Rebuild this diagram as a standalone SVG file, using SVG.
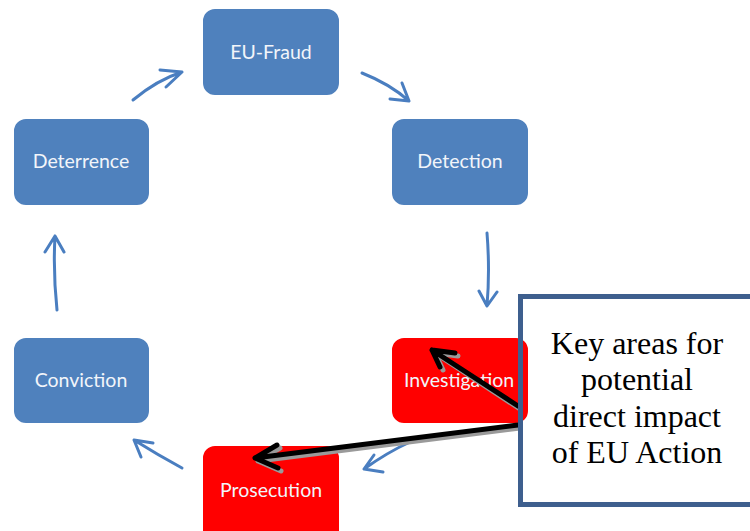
<svg xmlns="http://www.w3.org/2000/svg" width="750" height="531" viewBox="0 0 750 531">
<defs>
<style>
.box{stroke:#ffffff;stroke-width:2}
.blue{fill:#4F81BD}
.red{fill:#FF0000}
.lbl{font-family:Lato,"Liberation Sans",sans-serif;font-size:19.5px;fill:#F2F5FA;text-anchor:middle}
.flow{fill:none;stroke:#4A7EC0;stroke-width:3;stroke-linecap:round;stroke-linejoin:round}
.key{fill:none;stroke:#000;stroke-width:5;stroke-linecap:round;stroke-linejoin:round}
.shadow{fill:none;stroke:#9a9a9a;stroke-width:5;stroke-linecap:round;stroke-linejoin:round}
.note{font-family:"Liberation Serif",serif;font-size:32px;fill:#000;text-anchor:middle}
</style>
</defs>
<rect width="750" height="531" fill="#ffffff"/>
<g id="connectors">
<path class="flow" d="M362,73 Q390,84 409,101 M402,83 L409,101 L390,99"/>
<path class="flow" d="M487,233 Q490,270 487,306 M479,291 L487,306 L497,292"/>
<path class="flow" d="M410,442 Q388,452 364,469 M374,455 L364,469 L383,472"/>
<path class="flow" d="M182,468 Q158,455 134,440 M153,443 L134,440 L141,457"/>
<path class="flow" d="M57,310 Q53,272 55,236 M45,252 L55,236 L64,252"/>
<path class="flow" d="M133,100 Q157,80 182,72 M160,70 L182,72 L166,87"/>
</g>
<g id="eu-fraud"><rect class="box blue" x="202" y="8" width="138" height="88" rx="13"/><text class="lbl" x="271" y="59">EU-Fraud</text></g>
<g id="detection"><rect class="box blue" x="391" y="118" width="138" height="88" rx="13"/><text class="lbl" x="460" y="168">Detection</text></g>
<g id="investigation"><rect class="box red" x="391" y="337" width="138" height="87" rx="13"/><text class="lbl" x="459" y="387">Investigation</text></g>
<g id="prosecution"><rect class="box red" x="202" y="445" width="138" height="100" rx="13"/><text class="lbl" x="271" y="497">Prosecution</text></g>
<g id="conviction"><rect class="box blue" x="13" y="337" width="137" height="87" rx="13"/><text class="lbl" x="81" y="387">Conviction</text></g>
<g id="deterrence"><rect class="box blue" x="13" y="118" width="137" height="88" rx="13"/><text class="lbl" x="81" y="168">Deterrence</text></g>
<g id="key-arrows">
<path class="shadow" d="M520,409 L435,353 M458,356 L435,353 L443,370"/>
<path class="shadow" d="M520,428 L258,461 M280,448 L258,461 L281,471"/>
<path class="key" d="M518,406 L432,350 M455,353 L432,350 L440,367"/>
<path class="key" d="M518,425 L255,458 M277,445 L255,458 L278,468"/>
</g>
<g id="callout">
<rect x="520.5" y="296.5" width="240" height="208" fill="none" stroke="#3E5F8E" stroke-width="5"/>
<text class="note" x="637" y="354">Key areas for</text>
<text class="note" x="637" y="390">potential</text>
<text class="note" x="637" y="427">direct impact</text>
<text class="note" x="637" y="463">of EU Action</text>
</g>
</svg>
